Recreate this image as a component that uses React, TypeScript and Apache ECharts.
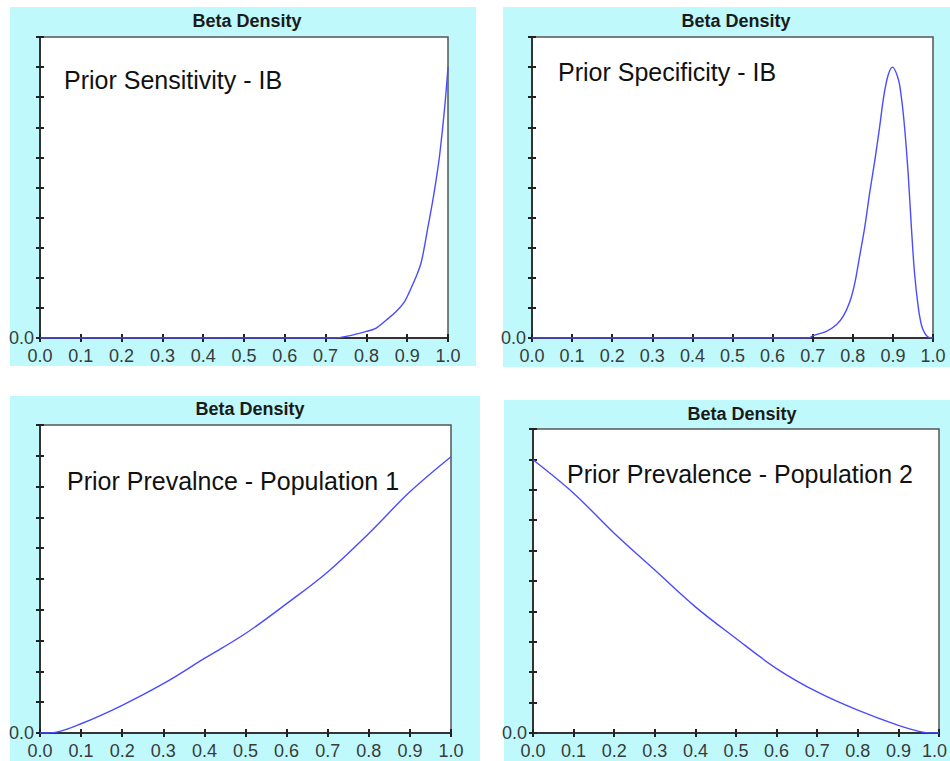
import React, { useEffect, useRef } from "react";
import * as echarts from "echarts";

const panelTitles = ["Beta Density", "Beta Density", "Beta Density", "Beta Density"];
const panelLabels = [
  "Prior Sensitivity - IB",
  "Prior Specificity - IB",
  "Prior Prevalnce - Population 1",
  "Prior Prevalence - Population 2",
];

const xTicks = [0, 0.1, 0.2, 0.3, 0.4, 0.5, 0.6, 0.7, 0.8, 0.9, 1.0];

// Density curves (y in axis tick units, 0..10)
const sensitivityIB: [number, number][] = [
  [0, 0], [0.72, 0], [0.76, 0.08], [0.8, 0.22], [0.824, 0.33], [0.849, 0.6],
  [0.873, 0.88], [0.894, 1.22], [0.906, 1.55], [0.922, 2.04], [0.935, 2.55],
  [0.951, 3.7], [0.963, 4.59], [0.972, 5.35], [0.98, 6.13], [0.992, 7.68], [1.0, 9.0],
];
const specificityIB: [number, number][] = [
  [0, 0], [0.69, 0], [0.701, 0.08], [0.734, 0.22], [0.759, 0.44], [0.776, 0.72],
  [0.793, 1.22], [0.805, 1.82], [0.817, 2.71], [0.83, 3.7], [0.842, 4.81],
  [0.855, 5.91], [0.867, 7.02], [0.877, 8.01], [0.888, 8.73], [0.899, 9.0],
  [0.913, 8.62], [0.921, 8.01], [0.929, 7.02], [0.938, 5.47], [0.946, 3.7],
  [0.954, 2.15], [0.963, 1.05], [0.971, 0.44], [0.979, 0.17], [0.988, 0.03], [1.0, 0],
];
const prevalencePop1: [number, number][] = [
  [0, 0], [0.04, 0.03], [0.1, 0.3], [0.2, 0.9], [0.3, 1.6], [0.4, 2.42], [0.5, 3.23],
  [0.6, 4.2], [0.7, 5.23], [0.8, 6.48], [0.9, 7.83], [1.0, 8.97],
];
const prevalencePop2: [number, number][] = [
  [0, 8.99], [0.1, 7.89], [0.2, 6.57], [0.3, 5.36], [0.4, 4.15], [0.5, 3.11],
  [0.6, 2.12], [0.7, 1.35], [0.8, 0.75], [0.9, 0.25], [0.96, 0.03], [1.0, 0],
];

const seriesData = [sensitivityIB, specificityIB, prevalencePop1, prevalencePop2];

// layout (pixels)
const panels = [
  { bg: [10, 7, 466, 359], grid: [40, 37, 408, 301], titleXY: [247, 21], labelXY: [64, 80], nudgeMax: false },
  { bg: [503, 7, 447, 360], grid: [532, 37, 401, 301], titleXY: [736, 21], labelXY: [558, 72], nudgeMax: false },
  { bg: [10, 396, 470, 365], grid: [40, 425, 411, 308], titleXY: [250, 409], labelXY: [67, 481], nudgeMax: false },
  { bg: [504, 400, 446, 361], grid: [533, 429, 406, 304], titleXY: [742, 414], labelXY: [567, 474], nudgeMax: true },
];

const FONT = "'Liberation Sans', Arial, Helvetica, sans-serif";

export default function App() {
  const ref = useRef<HTMLDivElement>(null);
  useEffect(() => {
    if (!ref.current) return;
    const chart = echarts.init(ref.current, null, { renderer: "svg" });

    const grids: any[] = [];
    const xAxes: any[] = [];
    const yAxes: any[] = [];
    const series: any[] = [];
    const titles: any[] = [];
    const graphics: any[] = [];

    panels.forEach((p, i) => {
      graphics.push({
        type: "rect",
        shape: { x: p.bg[0], y: p.bg[1], width: p.bg[2], height: p.bg[3] },
        style: { fill: "#bff9fb" },
        z: -10,
        silent: true,
      });
      grids.push({
        left: p.grid[0], top: p.grid[1], width: p.grid[2], height: p.grid[3],
        show: true, backgroundColor: "#ffffff", borderColor: "#555", borderWidth: 1.5,
        containLabel: false, outerBoundsMode: "none",
      });
      const xBase = {
        type: "value", gridIndex: i, min: xTicks[0], max: xTicks[xTicks.length - 1],
        interval: 0.1, position: "bottom",
        splitLine: { show: false },
      };
      xAxes.push({
        ...xBase,
        axisLine: { show: true, lineStyle: { color: "#333", width: 2 } },
        axisTick: { show: true, inside: false, length: 4, lineStyle: { color: "#222", width: 2 } },
        axisLabel: {
          show: true, margin: 9, fontSize: 18, color: "#3a3a3a", fontFamily: FONT,
          formatter: (v: number) =>
            p.nudgeMax && Math.abs(v - 1) < 1e-9 ? "{m|" + v.toFixed(1) + "}" : v.toFixed(1),
          rich: {
            m: { fontSize: 18, color: "#3a3a3a", fontFamily: FONT, padding: [0, 9, 0, 0] },
          },
        },
      });
      xAxes.push({
        ...xBase,
        axisLine: { show: false },
        axisTick: { show: true, inside: true, length: 4, lineStyle: { color: "#222", width: 2 } },
        axisLabel: { show: false },
      });
      const yBase = {
        type: "value", gridIndex: i, min: 0, max: 10, interval: 1, position: "left",
        splitLine: { show: false },
      };
      yAxes.push({
        ...yBase,
        axisLine: { show: true, lineStyle: { color: "#333", width: 2 } },
        axisTick: { show: true, inside: false, length: 4, lineStyle: { color: "#222", width: 2 } },
        axisLabel: {
          show: true, margin: 6, fontSize: 18, color: "#3a3a3a", fontFamily: FONT,
          formatter: (v: number) => (v === 0 ? "0.0" : ""),
        },
      });
      yAxes.push({
        ...yBase,
        axisLine: { show: false },
        axisTick: { show: true, inside: true, length: 4, lineStyle: { color: "#222", width: 2 } },
        axisLabel: { show: false },
      });
      series.push({
        type: "line",
        xAxisIndex: i * 2,
        yAxisIndex: i * 2,
        data: seriesData[i],
        showSymbol: false,
        smooth: 0.35,
        lineStyle: { color: "#4b4bff", width: 1.4 },
        z: 5,
      });
      titles.push({
        text: panelTitles[i],
        left: p.titleXY[0],
        top: p.titleXY[1] - 9,
        textAlign: "center",
        padding: 0,
        textStyle: { fontSize: 18, fontWeight: "bold", color: "#1a1a1a", fontFamily: FONT },
      });
      graphics.push({
        type: "text",
        x: p.labelXY[0],
        y: p.labelXY[1],
        z: 100,
        style: {
          text: panelLabels[i],
          fontSize: 25,
          fontFamily: FONT,
          fill: "#111",
          textAlign: "left",
          textVerticalAlign: "middle",
        },
      });
    });

    chart.setOption({
      animation: false,
      backgroundColor: "#ffffff",
      textStyle: { fontFamily: FONT },
      title: titles,
      grid: grids,
      xAxis: xAxes,
      yAxis: yAxes,
      series,
      graphic: graphics,
    });
    return () => chart.dispose();
  }, []);
  return (
    <div
      ref={ref}
      style={{ position: "fixed", left: 0, top: 0, width: 950, height: 761 }}
    />
  );
}
